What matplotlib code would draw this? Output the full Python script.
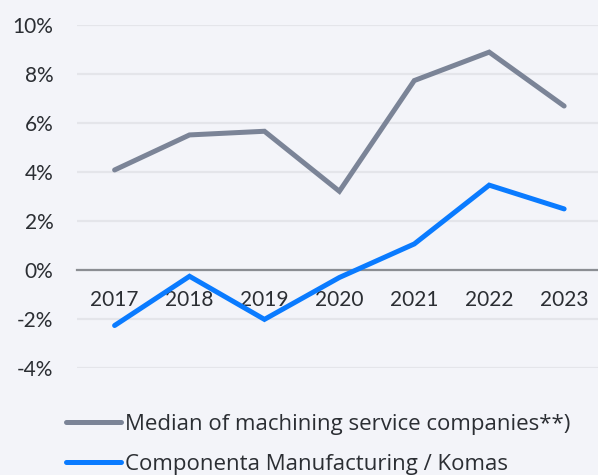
import matplotlib
matplotlib.use("Agg")
import matplotlib.pyplot as plt
from matplotlib.ticker import FuncFormatter

# Operating margin by year
years = ["2017", "2018", "2019", "2020", "2021", "2022", "2023"]
median_peers = [4.07, 5.5, 5.65, 3.2, 7.72, 8.88, 6.68]
componenta = [-2.28, -0.27, -2.03, -0.32, 1.05, 3.45, 2.48]
series_labels = ["Median of machining service companies**)",
                 "Componenta Manufacturing / Komas"]
y_ticks = [-4, -2, 0, 2, 4, 6, 8, 10]

BG = "#f3f4f9"
GRAY = "#7b8497"
BLUE = "#0a7bff"
TEXT = "#2b2e33"

plt.rcParams["font.family"] = ["Lato", "DejaVu Sans"]

fig = plt.figure(figsize=(5.98, 4.75), dpi=100, facecolor=BG)
ax = fig.add_axes([0.129, 0.226, 0.877, 0.722], facecolor=BG)

x = list(range(len(years)))
l1, = ax.plot(x, median_peers, color=GRAY, lw=3.6,
              solid_capstyle="round", solid_joinstyle="miter", zorder=3)
l2, = ax.plot(x, componenta, color=BLUE, lw=3.6,
              solid_capstyle="round", solid_joinstyle="miter", zorder=4)

ax.set_xlim(-0.5, len(years) - 0.5)
ax.set_ylim(-4, 10)
ax.set_yticks(y_ticks)
ax.yaxis.set_major_formatter(FuncFormatter(lambda v, _: f"{v:.0f}%"))
ax.grid(axis="y", color="#e4e5ea", lw=1.6, zorder=0)
ax.set_axisbelow(True)

for s in ["top", "right", "left"]:
    ax.spines[s].set_visible(False)
ax.spines["bottom"].set_position(("data", 0))
ax.spines["bottom"].set_color("#8b8e93")
ax.spines["bottom"].set_linewidth(1.6)
ax.spines["bottom"].set_zorder(2)

ax.set_xticks(x)
ax.set_xticklabels(years)
ax.tick_params(axis="x", length=0, pad=15, labelsize=15, labelcolor=TEXT)
ax.tick_params(axis="y", length=0, pad=17, labelsize=15, labelcolor=TEXT)
for lab in ax.get_xticklabels():
    lab.set_zorder(1)

leg = fig.legend([l1, l2], series_labels, loc="upper left",
                 bbox_to_anchor=(0.110, 0.128), bbox_transform=fig.transFigure,
                 frameon=False, prop={"family": ["Open Sans", "DejaVu Sans"], "size": 16},
                 handlelength=2.5, handletextpad=0.18, labelspacing=0.84,
                 borderpad=0, borderaxespad=0, labelcolor=TEXT)

fig.savefig("out.png", dpi=100, facecolor=BG)
